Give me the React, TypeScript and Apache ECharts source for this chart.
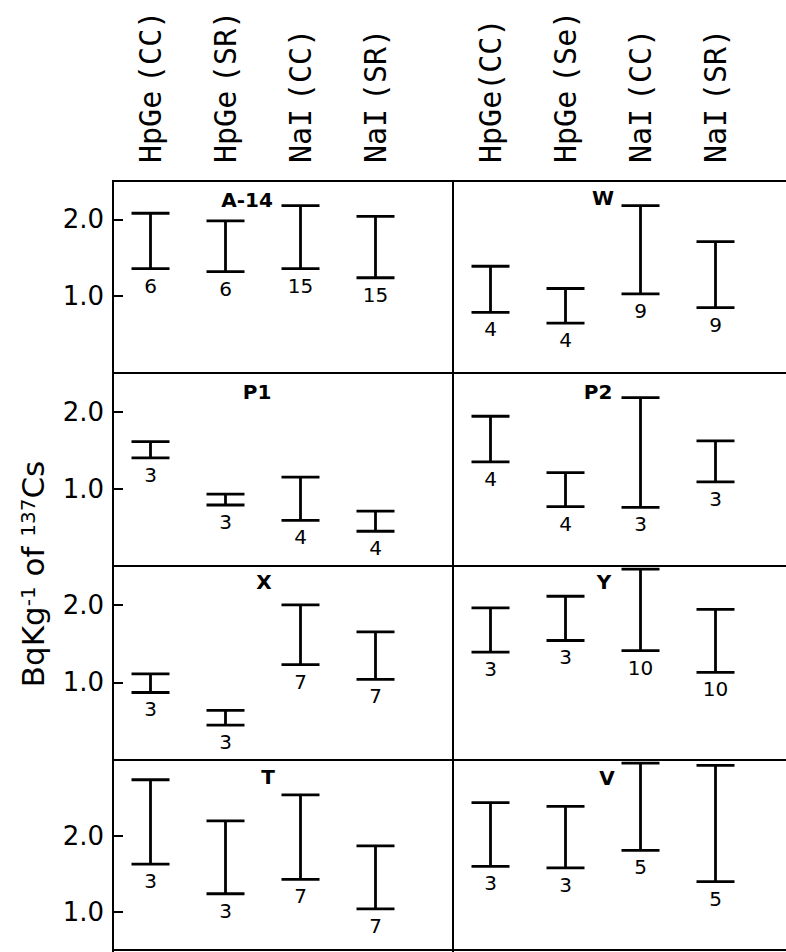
import React, { useEffect, useRef } from "react";
import * as echarts from "echarts";

// ---- categories / labels ----
const instrumentsLeft = ["HpGe (CC)", "HpGe (SR)", "NaI (CC)", "NaI (SR)"];
const instrumentsRight = ["HpGe(CC)", "HpGe (Se)", "NaI (CC)", "NaI (SR)"];
const panelNames = ["A-14", "W", "P1", "P2", "X", "Y", "T", "V"];

// ---- data (Bq/kg of 137Cs ranges, and number of samples) ----
const lowA14 = [1.36, 1.32, 1.36, 1.24];
const highA14 = [2.08, 1.98, 2.18, 2.04];
const nA14 = [6, 6, 15, 15];

const lowW = [0.79, 0.65, 1.03, 0.85];
const highW = [1.39, 1.1, 2.18, 1.71];
const nW = [4, 4, 9, 9];

const lowP1 = [1.4, 0.79, 0.59, 0.45];
const highP1 = [1.61, 0.93, 1.15, 0.71];
const nP1 = [3, 3, 4, 4];

const lowP2 = [1.35, 0.77, 0.76, 1.09];
const highP2 = [1.94, 1.21, 2.18, 1.62];
const nP2 = [4, 4, 3, 3];

const lowX = [0.87, 0.45, 1.23, 1.04];
const highX = [1.11, 0.64, 2.0, 1.65];
const nX = [3, 3, 7, 7];

const lowY = [1.39, 1.54, 1.41, 1.13];
const highY = [1.96, 2.11, 2.46, 1.94];
const nY = [3, 3, 10, 10];

const lowT = [1.63, 1.24, 1.43, 1.04];
const highT = [2.74, 2.2, 2.54, 1.87];
const nT = [3, 3, 7, 7];

const lowV = [1.6, 1.58, 1.81, 1.4];
const highV = [2.44, 2.39, 2.96, 2.93];
const nV = [3, 3, 5, 5];

// ---- axis ranges / ticks ----
const rowYMin = [0, 0, 0, 0.5];
const rowYMax = [2.5, 2.5, 2.5, 3.0];
const yTickValues = [1, 2];

// ---- layout (positions / sizes only) ----
const ROW_TOP = [181, 373, 566, 760];
const ROW_BOTTOM = [373, 566, 760, 950];
const COL_LEFT = [113, 453];
const PLOT_W = 300;
const FRAME_RIGHT = 790;
const PANEL_LABEL_POS = [
  [247, 200],
  [603, 198],
  [257, 392],
  [598, 392],
  [264, 582],
  [604, 582],
  [268, 777],
  [607, 778],
];

const panels = [
  { low: lowA14, high: highA14, n: nA14 },
  { low: lowW, high: highW, n: nW },
  { low: lowP1, high: highP1, n: nP1 },
  { low: lowP2, high: highP2, n: nP2 },
  { low: lowX, high: highX, n: nX },
  { low: lowY, high: highY, n: nY },
  { low: lowT, high: highT, n: nT },
  { low: lowV, high: highV, n: nV },
];

const INK = "#000";

const renderErrorBar = (_params: any, api: any) => {
  const xi = api.value(0);
  const lo = api.value(1);
  const hi = api.value(2);
  const n = api.value(3);
  const top = api.coord([xi, hi]);
  const bot = api.coord([xi, lo]);
  const cx = top[0];
  const half = 19;
  const st = { stroke: INK, lineWidth: 2.8 };
  return {
    type: "group",
    children: [
      { type: "line", shape: { x1: cx, y1: top[1], x2: cx, y2: bot[1] }, style: st },
      { type: "line", shape: { x1: cx - half, y1: top[1], x2: cx + half, y2: top[1] }, style: st },
      { type: "line", shape: { x1: cx - half, y1: bot[1], x2: cx + half, y2: bot[1] }, style: st },
      {
        type: "text",
        x: cx,
        y: bot[1] + 7,
        style: {
          text: String(n),
          fill: INK,
          fontSize: 20,
          fontFamily: "DejaVu Sans",
          align: "center",
          verticalAlign: "top",
        },
      },
    ],
  };
};

function buildOption() {
  const grid: any[] = [];
  const xAxis: any[] = [];
  const yAxis: any[] = [];
  const series: any[] = [];

  for (let r = 0; r < 4; r++) {
    for (let c = 0; c < 2; c++) {
      const i = r * 2 + c;
      grid.push({
        left: COL_LEFT[c],
        top: ROW_TOP[r],
        width: PLOT_W,
        height: ROW_BOTTOM[r] - ROW_TOP[r],
        containLabel: false,
        outerBoundsMode: "none",
        show: false,
      });
      xAxis.push({
        type: "category",
        gridIndex: i,
        data: c === 0 ? instrumentsLeft : instrumentsRight,
        position: r === 0 ? "top" : "bottom",
        axisLine: { show: false },
        axisTick: { show: false },
        splitLine: { show: false },
        axisLabel: {
          show: r === 0,
          interval: 0,
          rotate: 90,
          margin: 18,
          color: INK,
          fontSize: 30,
          fontFamily: "DejaVu Sans Mono",
          formatter: (v: string) => v.replace(" ", "{g| }"),
          rich: {
            g: { fontSize: 13, fontFamily: "DejaVu Sans Mono" },
          },
        },
      });
      yAxis.push({
        type: "value",
        gridIndex: i,
        min: rowYMin[r],
        max: rowYMax[r],
        axisLine: { show: false },
        splitLine: { show: false },
        axisTick: {
          show: c === 0,
          inside: true,
          length: 10,
          customValues: yTickValues,
          lineStyle: { color: INK, width: 2 },
        },
        axisLabel: {
          show: c === 0,
          customValues: yTickValues,
          formatter: (v: number) => v.toFixed(1),
          margin: 9,
          color: INK,
          fontSize: 26,
          fontFamily: "DejaVu Sans",
        },
      });
      const p = panels[i];
      series.push({
        type: "custom",
        xAxisIndex: i,
        yAxisIndex: i,
        clip: false,
        renderItem: renderErrorBar,
        data: p.low.map((lo, k) => [k, lo, p.high[k], p.n[k]]),
      });
    }
  }

  const graphic: any[] = [];
  const lineStyle = { stroke: INK, lineWidth: 2 };
  const hYs = [ROW_TOP[0], ROW_TOP[1], ROW_TOP[2], ROW_TOP[3], ROW_BOTTOM[3]];
  hYs.forEach((y) => {
    graphic.push({
      type: "line",
      shape: { x1: COL_LEFT[0] - 1, y1: y, x2: FRAME_RIGHT, y2: y },
      style: lineStyle,
      silent: true,
    });
  });
  COL_LEFT.forEach((x) => {
    graphic.push({
      type: "line",
      shape: { x1: x, y1: ROW_TOP[0] - 1, x2: x, y2: 952 },
      style: lineStyle,
      silent: true,
    });
  });
  panelNames.forEach((name, i) => {
    graphic.push({
      type: "text",
      x: PANEL_LABEL_POS[i][0],
      y: PANEL_LABEL_POS[i][1],
      silent: true,
      style: {
        text: name,
        fill: INK,
        fontSize: 20,
        fontWeight: "bold",
        fontFamily: "DejaVu Sans",
        align: "center",
        verticalAlign: "middle",
      },
    });
  });
  graphic.push({
    type: "text",
    x: 33,
    y: 574,
    rotation: Math.PI / 2,
    silent: true,
    style: {
      text: "{m|BqKg}{s|-1}{m| of }{s|137}{m|Cs}",
      align: "center",
      verticalAlign: "middle",
      fill: INK,
      rich: {
        m: { fontSize: 31, fontFamily: "DejaVu Sans", fill: INK },
        s: { fontSize: 20, fontFamily: "DejaVu Sans", fill: INK, verticalAlign: "top" },
      },
    },
  });

  return {
    animation: false,
    backgroundColor: "#fff",
    textStyle: { fontFamily: "DejaVu Sans", color: INK },
    grid,
    xAxis,
    yAxis,
    series,
    graphic,
  };
}

export default function App() {
  const ref = useRef<HTMLDivElement>(null);
  useEffect(() => {
    if (!ref.current) return;
    const chart = echarts.init(ref.current, undefined, { renderer: "svg" });
    chart.setOption(buildOption() as any);
    return () => chart.dispose();
  }, []);
  return (
    <div
      ref={ref}
      style={{ position: "fixed", left: 0, top: 0, width: 786, height: 952, background: "#fff" }}
    />
  );
}
